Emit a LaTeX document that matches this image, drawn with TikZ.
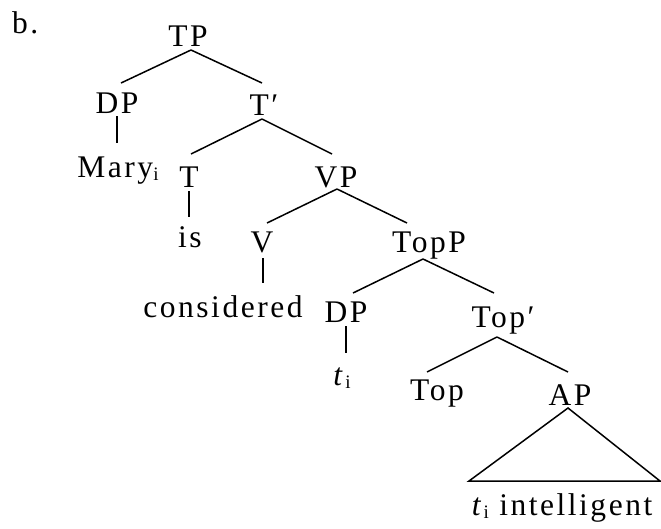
\documentclass[tikz,border=0pt]{standalone}
\usepackage{fontspec}
\setmainfont{Liberation Serif}[LetterSpace=8]
\newcommand{\subi}{{\fontsize{19}{19}\selectfont\raisebox{-3pt}{i}}}
\begin{document}
\begin{tikzpicture}[x=1pt,y=-1pt,
  lab/.style={anchor=base,inner sep=0pt,font=\fontsize{31.5}{36}\selectfont},
  br/.style={line width=1.5pt}]
\useasboundingbox (0,0) rectangle (661,528);
\node[lab,anchor=base west] (b) at (12,33) {b.};
\node[lab] (TP) at (188,46) {TP};
\node[lab] (DP1) at (117,113) {DP};
\node[lab] (Tbar) at (264,115) {T′};
\node[lab] (Mary) at (118,177) {Mary\subi};
\node[lab] (T) at (189,187) {T};
\node[lab] (VP) at (336,187) {VP};
\node[lab] (is) at (190,247) {is};
\node[lab] (V) at (262,252) {V};
\node[lab] (TopP) at (429,252) {TopP};
\node[lab] (cons) at (223,317) {considered};
\node[lab] (DP2) at (346,322) {DP};
\node[lab] (Topbar) at (503,327) {Top′};
\node[lab] (t1) at (342,385) {\textit{t}\subi};
\node[lab] (Top) at (437,400) {Top};
\node[lab] (AP) at (570,405) {AP};
\node[lab] (tint) at (562,515) {\textit{t}\subi\ intelligent};

\draw[br] ([shift={(3,4)}]TP.base) -- ([shift={(4,-30)}]DP1.base);
\draw[br] ([shift={(3,4)}]TP.base) -- ([shift={(-2,-32)}]Tbar.base);
\draw[br] ([shift={(0,3)}]DP1.base) -- ([shift={(-1,-34)}]Mary.base);
\draw[br] ([shift={(-2,4)}]Tbar.base) -- ([shift={(2,-33)}]T.base);
\draw[br] ([shift={(-2,4)}]Tbar.base) -- ([shift={(-4,-33)}]VP.base);
\draw[br] ([shift={(0,4)}]T.base) -- ([shift={(-1,-30)}]is.base);
\draw[br] ([shift={(1,2)}]VP.base) -- ([shift={(5,-29)}]V.base);
\draw[br] ([shift={(1,2)}]VP.base) -- ([shift={(-22,-29)}]TopP.base);
\draw[br] ([shift={(1,6)}]V.base) -- ([shift={(40,-34)}]cons.base);
\draw[br] ([shift={(-6,7)}]TopP.base) -- ([shift={(7,-29)}]DP2.base);
\draw[br] ([shift={(-6,7)}]TopP.base) -- ([shift={(-9,-34)}]Topbar.base);
\draw[br] ([shift={(0,4)}]DP2.base) -- ([shift={(4,-32)}]t1.base);
\draw[br] ([shift={(-6,10)}]Topbar.base) -- ([shift={(-10,-28)}]Top.base);
\draw[br] ([shift={(-6,10)}]Topbar.base) -- ([shift={(-2,-33)}]AP.base);
\draw[br,line join=miter] ([shift={(-2,3)}]AP.base) -- ([shift={(-93,-34)}]tint.base) -- ([shift={(98,-34)}]tint.base) -- cycle;
\end{tikzpicture}
\end{document}
